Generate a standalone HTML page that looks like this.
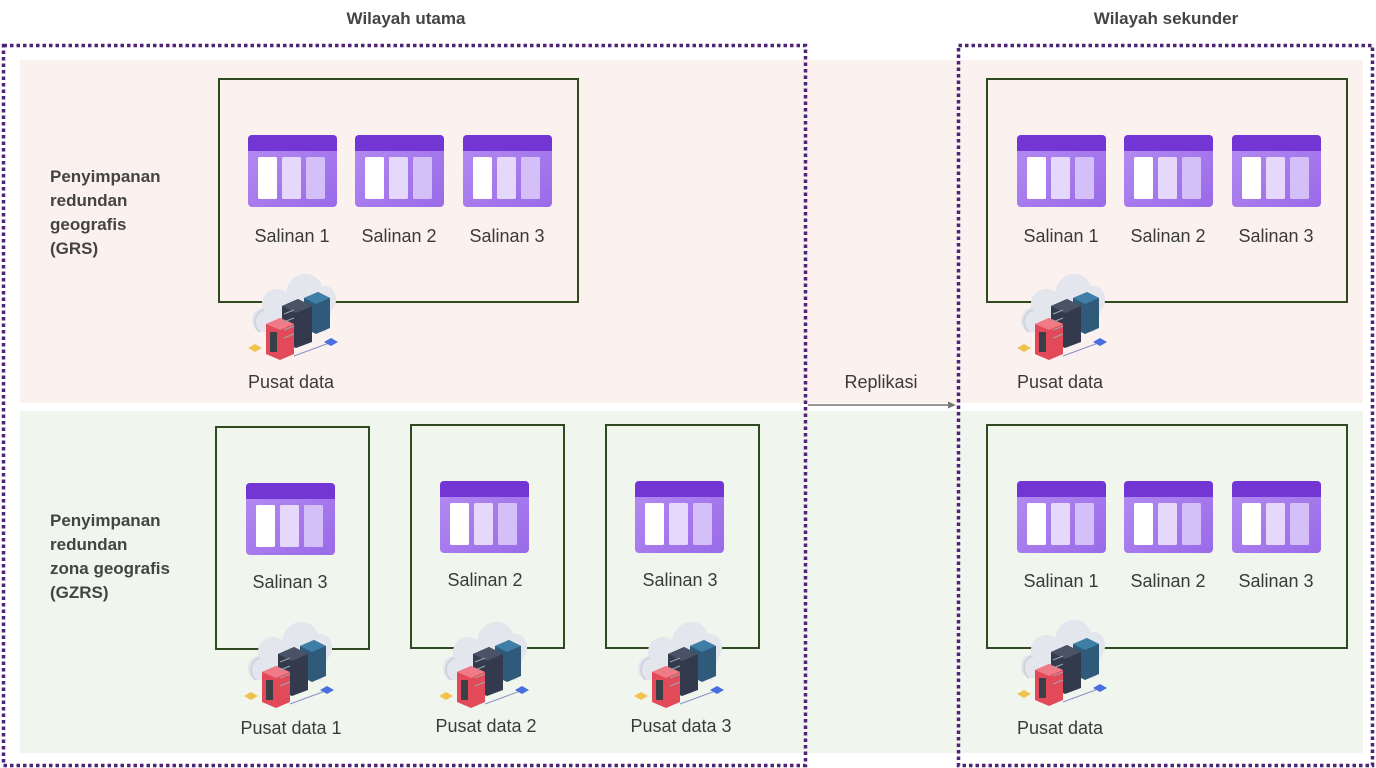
<!DOCTYPE html>
<html><head><meta charset="utf-8"><style>
html,body{margin:0;padding:0;background:#fff;}
svg{display:block;}
text{font-family:"Liberation Sans",sans-serif;}
.lbl{font-size:18px;fill:#3a3a3a;text-anchor:middle;}
.hd{font-size:17px;font-weight:bold;fill:#444;}
.tt{font-size:17px;font-weight:bold;fill:#444;text-anchor:middle;}
</style></head><body>
<svg width="1376" height="768" viewBox="0 0 1376 768" xmlns="http://www.w3.org/2000/svg">
<defs>
<linearGradient id="bodyg" x1="0" y1="0" x2="1" y2="1"><stop offset="0" stop-color="#b48cf2"/><stop offset="1" stop-color="#9a6ae8"/></linearGradient>
<symbol id="st" viewBox="0 0 89 72" width="89" height="72">
<rect x="0" y="0" width="89" height="72" rx="4" fill="url(#bodyg)"/>
<path d="M4 0H85A4 4 0 0 1 89 4V16H0V4A4 4 0 0 1 4 0Z" fill="#7336d4"/>
<rect x="10" y="22" width="19" height="42" rx="1.5" fill="#ffffff"/>
<rect x="34" y="22" width="19" height="42" rx="1.5" fill="#e6d8fb"/>
<rect x="58" y="22" width="19" height="42" rx="1.5" fill="#d4bff8"/>
</symbol>
<symbol id="dc" viewBox="0 0 96 98" width="96" height="98">
<path d="M14 70 C2 66 4 48 16 46 C14 30 30 22 40 30 C44 8 70 6 76 24 C90 22 94 40 86 48 L80 70 Z" fill="#e4e6ee"/>
<path d="M14 70 C6 64 8 50 18 48" fill="none" stroke="#d0d3de" stroke-width="2"/>
<polygon points="58,36 72,30 84,36 84,66 70,72 58,66" fill="#2f5a7a"/>
<polygon points="58,36 72,30 84,36 70,42" fill="#3f7ea6"/>
<polygon points="36,44 52,37 66,44 66,80 50,86 36,80" fill="#333a4e"/>
<polygon points="36,44 52,37 66,44 50,51" fill="#4a5266"/>
<polygon points="20,62 34,56 48,62 48,92 34,98 20,92" fill="#e24a5a"/>
<polygon points="20,62 34,56 48,62 34,68" fill="#f07a86"/>
<rect x="24" y="70" width="7" height="20" fill="#3a4048"/>
<g stroke="#9aa" stroke-width="1"><line x1="38" y1="52" x2="48" y2="48"/><line x1="38" y1="60" x2="48" y2="56"/><line x1="38" y1="68" x2="48" y2="64"/><line x1="38" y1="76" x2="48" y2="72"/></g>
<line x1="48" y1="94" x2="86" y2="80" stroke="#8a8fc8" stroke-width="1"/>
<polygon points="2,86 9,82 16,86 9,90" fill="#f2c250"/>
<polygon points="78,80 85,76 92,80 85,84" fill="#4a6ee0"/>
</symbol>
</defs>
<rect x="20" y="60" width="1343" height="343" fill="#fbf1ee"/>
<rect x="20" y="411" width="1343" height="342" fill="#f0f6ee"/>
<text class="tt" x="406" y="24">Wilayah utama</text>
<text class="tt" x="1166" y="24">Wilayah sekunder</text>
<rect x="3.5" y="45.5" width="802" height="720" fill="none" stroke="#4f2478" stroke-width="3.5" stroke-dasharray="3.5 3"/>
<rect x="958.5" y="45.5" width="414" height="720" fill="none" stroke="#4f2478" stroke-width="3.5" stroke-dasharray="3.5 3"/>
<text class="hd" x="50" y="182">Penyimpanan</text>
<text class="hd" x="50" y="206">redundan</text>
<text class="hd" x="50" y="230">geografis</text>
<text class="hd" x="50" y="254">(GRS)</text>
<text class="hd" x="50" y="526">Penyimpanan</text>
<text class="hd" x="50" y="550">redundan</text>
<text class="hd" x="50" y="574">zona geografis</text>
<text class="hd" x="50" y="598">(GZRS)</text>
<g fill="none" stroke="#2e4a1e" stroke-width="2">
<rect x="219" y="79" width="359" height="223"/>
<rect x="216" y="427" width="153" height="222"/>
<rect x="411" y="425" width="153" height="223"/>
<rect x="606" y="425" width="153" height="223"/>
<rect x="987" y="79" width="360" height="223"/>
<rect x="987" y="425" width="360" height="223"/>
</g>
<use href="#st" x="248" y="135"/><use href="#st" x="355" y="135"/><use href="#st" x="463" y="135"/>
<use href="#st" x="246" y="483"/><use href="#st" x="440" y="481"/><use href="#st" x="635" y="481"/>
<use href="#st" x="1017" y="135"/><use href="#st" x="1124" y="135"/><use href="#st" x="1232" y="135"/>
<use href="#st" x="1017" y="481"/><use href="#st" x="1124" y="481"/><use href="#st" x="1232" y="481"/>
<text class="lbl" x="292" y="242">Salinan 1</text><text class="lbl" x="399" y="242">Salinan 2</text><text class="lbl" x="507" y="242">Salinan 3</text>
<text class="lbl" x="290" y="588">Salinan 3</text><text class="lbl" x="485" y="586">Salinan 2</text><text class="lbl" x="680" y="586">Salinan 3</text>
<text class="lbl" x="1061" y="242">Salinan 1</text><text class="lbl" x="1168" y="242">Salinan 2</text><text class="lbl" x="1276" y="242">Salinan 3</text>
<text class="lbl" x="1061" y="587">Salinan 1</text><text class="lbl" x="1168" y="587">Salinan 2</text><text class="lbl" x="1276" y="587">Salinan 3</text>
<use href="#dc" x="246" y="262"/><use href="#dc" x="242" y="610"/><use href="#dc" x="437" y="610"/><use href="#dc" x="632" y="610"/>
<use href="#dc" x="1015" y="262"/><use href="#dc" x="1015" y="608"/>
<text class="lbl" x="291" y="388">Pusat data</text>
<text class="lbl" x="291" y="734">Pusat data 1</text><text class="lbl" x="486" y="732">Pusat data 2</text><text class="lbl" x="681" y="732">Pusat data 3</text>
<text class="lbl" x="1060" y="388">Pusat data</text><text class="lbl" x="1060" y="734">Pusat data</text>
<line x1="808" y1="405" x2="950" y2="405" stroke="#777" stroke-width="1.5"/>
<polygon points="956,405 948,401.5 948,408.5" fill="#777"/>
<text class="lbl" x="881" y="388">Replikasi</text>
</svg>
</body></html>
